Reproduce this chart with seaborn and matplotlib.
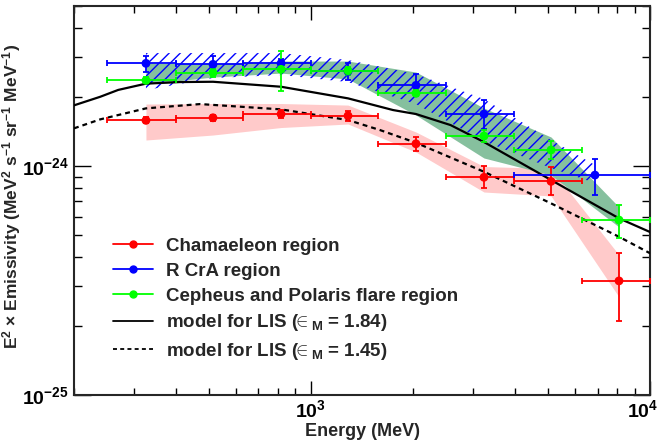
import numpy as np
import pandas as pd
import seaborn as sns
import matplotlib
matplotlib.use("Agg")
import matplotlib.pyplot as plt
from matplotlib.lines import Line2D
from matplotlib.ticker import LogLocator, NullFormatter, FixedLocator
from matplotlib.transforms import ScaledTranslation

# values in units of 1e-24 MeV^2 s^-1 sr^-1 MeV^-1
unit = 1e-24

energy = [326, 514, 816, 1286, 2040, 3238, 5105, 8100]
bin_lo = [250, 400, 630, 1000, 1580, 2510, 3980, 6310]
bin_hi = [400, 630, 1000, 1580, 2510, 3980, 6310, 10000]

cham_val = [1.583, 1.625, 1.687, 1.658, 1.251, 0.893, 0.857, 0.315]
cham_lo = [1.536, 1.577, 1.620, 1.577, 1.166, 0.799, 0.744, 0.211]
cham_hi = [1.631, 1.675, 1.756, 1.744, 1.342, 0.998, 0.987, 0.418]
cham_band_lo = [1.299, 1.366, 1.473, 1.526, 1.151, 0.770, 0.740, 0.268]
cham_band_hi = [1.865, 1.875, 1.875, 1.846, 1.408, 0.995, 0.975, 0.409]

ceph_val = [2.367, 2.556, 2.644, 2.608, 2.077, 1.352, 1.175, 0.581]
ceph_lo = [2.296, 2.455, 2.126, 2.505, 2.015, 1.273, 1.073, 0.483]
ceph_hi = [2.440, 2.661, 3.178, 2.715, 2.141, 1.436, 1.287, 0.676]
ceph_band_lo = [2.281, 2.447, 2.547, 2.399, 1.670, 1.084, 0.913, 0.542]
ceph_band_hi = [2.818, 2.789, 2.874, 2.874, 2.573, 1.792, 1.339, 0.662]

rcra_energy = [326, 514, 816, 1286, 2040, 3238, 6880]
rcra_bin_lo = [250, 400, 630, 1000, 1580, 2510, 3980]
rcra_bin_hi = [400, 630, 1000, 1580, 2510, 3980, 10000]
rcra_val = [2.809, 2.781, 2.809, 2.591, 2.251, 1.687, 0.913]
rcra_lo = [2.581, 2.566, 2.698, 2.379, 2.015, 1.458, 0.747]
rcra_hi = [3.022, 3.015, 2.924, 2.822, 2.514, 1.952, 1.070]
rcra_band_e = [326, 514, 816, 1286, 2040, 3238, 5105, 6880]
rcra_band_lo = [2.147, 2.423, 2.497, 2.327, 1.865, 1.286, 0.980, 0.843]
rcra_band_hi = [3.114, 3.114, 3.114, 2.904, 2.522, 1.961, 1.299, 1.010]

lis184_e = [200, 239, 270, 326, 411, 514, 816, 1286, 1746, 2040, 2580, 3238, 5105, 8100, 10000]
lis184_v = [1.841, 2.007, 2.150, 2.290, 2.327, 2.334, 2.220, 1.975, 1.756, 1.687, 1.510,
            1.273, 0.869, 0.591, 0.515]
lis145_e = [200, 239, 326, 471, 816, 1286, 1598, 2040, 3238, 5105, 8100, 10000]
lis145_v = [1.461, 1.599, 1.786, 1.865, 1.768, 1.588, 1.436, 1.264, 0.944, 0.687, 0.491, 0.416]

x_major = [1e3, 1e4]
x_labels = [r"$10^{3}$", r"$10^{4}$"]
y_major = [1e-25, 1e-24]

sns.set_style("ticks")
plt.rcParams["font.family"] = ["Liberation Sans", "DejaVu Sans"]
plt.rcParams["font.weight"] = "bold"
plt.rcParams["mathtext.fontset"] = "custom"
plt.rcParams["mathtext.rm"] = "Liberation Sans:bold"
plt.rcParams["mathtext.bf"] = "Liberation Sans:bold"
plt.rcParams["mathtext.it"] = "Liberation Sans:bold:italic"
plt.rcParams["mathtext.default"] = "bf"
plt.rcParams["hatch.linewidth"] = 1.0

fig = plt.figure(figsize=(6.62, 4.45), dpi=100)
ax = fig.add_axes([0.1118, 0.1124, 0.8701, 0.8741])

E = np.array(energy, dtype=float)

# systematic bands
ax.fill_between(E, np.array(cham_band_lo) * unit, np.array(cham_band_hi) * unit,
                color="#ffcaca", linewidth=0, zorder=1)
ax.fill_between(E, np.array(ceph_band_lo) * unit, np.array(ceph_band_hi) * unit,
                color="#86c09e", linewidth=0, zorder=1)
ax.fill_between(np.array(rcra_band_e, dtype=float), np.array(rcra_band_lo) * unit,
                np.array(rcra_band_hi) * unit, facecolor="none", edgecolor="#0000ff",
                hatch="///", linewidth=0, zorder=2)

# LIS models
models = pd.DataFrame({
    "E": lis184_e + lis145_e,
    "v": [v * unit for v in lis184_v + lis145_v],
    "model": ["1.84"] * len(lis184_e) + ["1.45"] * len(lis145_e),
})
sns.lineplot(data=models[models.model == "1.84"], x="E", y="v", color="black",
             lw=1.6, estimator=None, sort=False, ax=ax, zorder=3)
sns.lineplot(data=models[models.model == "1.45"], x="E", y="v", color="black",
             lw=1.6, estimator=None, sort=False, ax=ax, zorder=3,
             linestyle=(0, (2.2, 1.8)))


def draw_points(x, xlo, xhi, val, lo, hi, color):
    x = np.asarray(x, dtype=float)
    val = np.asarray(val) * unit
    xerr = [x - np.asarray(xlo), np.asarray(xhi) - x]
    yerr = [val - np.asarray(lo) * unit, np.asarray(hi) * unit - val]
    ax.errorbar(x, val, xerr=xerr, yerr=yerr, fmt="none", ecolor=color,
                elinewidth=1.3, capsize=2.2, capthick=1.3, zorder=4)
    sns.scatterplot(x=x, y=val, color=color, s=40, edgecolor="none", ax=ax, zorder=5)


draw_points(energy, bin_lo, bin_hi, cham_val, cham_lo, cham_hi, "#ff0000")
draw_points(rcra_energy, rcra_bin_lo, rcra_bin_hi, rcra_val, rcra_lo, rcra_hi, "#0000ff")
draw_points(energy, bin_lo, bin_hi, ceph_val, ceph_lo, ceph_hi, "#00ff00")

ax.set_xscale("log")
ax.set_yscale("log")
ax.set_xlim(200, 1e4)
ax.set_ylim(1e-25, 5e-24)

ax.set_xticks(x_major, labels=x_labels)
ax.yaxis.set_major_locator(FixedLocator(y_major))
ax.xaxis.set_minor_locator(LogLocator(base=10, subs=np.arange(2, 10)))
ax.yaxis.set_minor_locator(LogLocator(base=10, subs=np.arange(2, 10)))
ax.xaxis.set_minor_formatter(NullFormatter())
ax.yaxis.set_minor_formatter(NullFormatter())
ax.tick_params(which="both", direction="in", top=True, right=True, width=1.0,
               labelsize=14, colors="black")
ax.tick_params(axis="x", which="major", length=10, pad=3)
ax.tick_params(axis="x", which="minor", length=5)
ax.tick_params(axis="y", which="major", length=12, pad=4)
ax.tick_params(axis="y", which="minor", length=6)
for sp in ax.spines.values():
    sp.set_linewidth(1.5)

# nudge the 10^4 label left so it stays inside the canvas
last = ax.get_xticklabels()[-1]
last.set_transform(last.get_transform() + ScaledTranslation(-5 / 72, 0, fig.dpi_scale_trans))

ax.set_xlabel("Energy (MeV)", fontsize=13, fontweight="bold")
ax.xaxis.set_label_coords(0.5, -0.072)
ax.set_ylabel(r"E$^{2}$ $\times$ Emissivity (MeV$^{2}$ s$^{-1}$ sr$^{-1}$ MeV$^{-1}$)",
              fontsize=12.5, fontweight="bold")
ax.yaxis.set_label_coords(-0.088, 0.51)

handles = [
    Line2D([], [], color="#ff0000", marker="o", markersize=5, lw=1.3),
    Line2D([], [], color="#0000ff", marker="o", markersize=5, lw=1.3),
    Line2D([], [], color="#00ff00", marker="o", markersize=5, lw=1.3),
    Line2D([], [], color="black", lw=1.3),
    Line2D([], [], color="black", lw=1.3, linestyle=(0, (2.2, 1.8))),
]
labels = [
    "Chamaeleon region",
    "R CrA region",
    "Cepheus and Polaris flare region",
    r"model for LIS ($\!\!\in_{M}$ = 1.84)",
    r"model for LIS ($\!\!\in_{M}$ = 1.45)",
]
ax.legend(handles, labels, loc="upper left", bbox_to_anchor=(0.068, 0.404),
          frameon=False, fontsize=13.5, handlelength=2.1, handletextpad=0.7,
          labelspacing=0.41, borderaxespad=0, borderpad=0)

fig.savefig("out.png", dpi=100)
